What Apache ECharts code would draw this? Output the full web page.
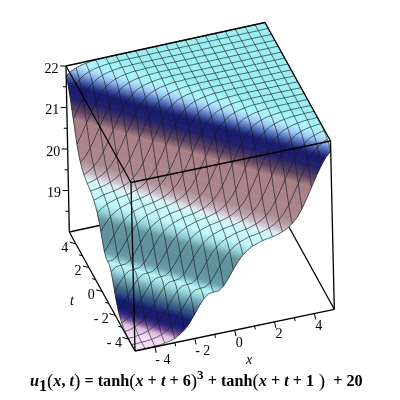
<!DOCTYPE html>
<html><head><meta charset="utf-8">
<style>html,body{margin:0;padding:0;background:#fff}#c{width:400px;height:400px}</style>
<script src="https://cdn.jsdelivr.net/npm/echarts@6/dist/echarts.min.js"></script>
</head><body><div id="c"></div>
<script>
// Surface height read per x+t, from -10 to 10 in steps of 0.25
var heightBySum = [
18.00,18.00,18.01,18.01,18.02,18.02,18.04,18.06,
18.10,18.17,18.26,18.39,18.56,18.74,18.90,18.99,
19.00,19.01,19.10,19.26,19.44,19.61,19.74,19.83,
19.90,19.94,19.98,20.00,20.02,20.05,20.09,20.15,
20.24,20.36,20.54,20.76,21.00,21.24,21.46,21.64,
21.76,21.85,21.90,21.94,21.96,21.98,21.99,21.99,
22.00,22.00,22.00,22.00,22.00,22.00,22.00,22.00,
22.00,22.00,22.00,22.00,22.00,22.00,22.00,22.00,
22.00,22.00,22.00,22.00,22.00,22.00,22.00,22.00,
22.00,22.00,22.00,22.00,22.00,22.00,22.00,22.00,
22.00];
var xTicks = [-4,-2,0,2,4];
var tTicks = [-4,-2,0,2,4];
var zTicks = [19,20,21,22];
var xMinor = [-3,-1,1,3];
var tMinor = [-3,-1,1,3];
var zMinor = [18.5,19.5,20.5,21.5];
var titleParts = ['{vb|u}','{sub|1}','{pl|(}','{vi|x}','{pb|, }','{vi|t}','{pl|)}','{pb| = tanh}','{pl|(}','{vi|x}','{pb| + }','{vi|t}','{pb| + 6}','{pl|)}','{sup|3}','{pb| + tanh}','{pl|(}','{vi|x}','{pb| + }','{vi|t}','{pb| + 1}','{pl| )}','{pb|  + 20}'];
var shadeAt = [-10,-8.4,-8.0,-7.75,-7.5,-7.2,-7.0,-6.75,-6.45,-6.1,-5.75,-5.5,-5.2,-4.7,-4.4,-4.0,-3.2,-2.7,-2.3,-1.9,-1.0,-0.8,-0.55,-0.25,0,0.3,0.7,1.2,2,10];
var shadeColor = ['#f8e4f8','#f5daf5','#d8b8dc','#6a4a90','#1e1e72','#17186e','#2a4a80','#5b8a9a','#9cd8e0','#c0fafc','#9cdce2','#6a9ca8','#5f8f9c','#64959f','#98d6de','#c2f7fb','#c8fafd','#dff0f5','#c8b4bf','#ab8a90','#a88086','#5a4060','#1e1e6c','#1a1c70','#4a66b0','#98bff0','#b0ecff','#a8f6fa','#9beef2','#9beef2'];

var FONT = '"Liberation Serif","Times New Roman",serif';
var LOW=-5, HIGH=5, ZLOW=18, ZHIGH=22, STEP=0.25, MESH=0.5;
// Screen position of the eight box corners: [x index][t index][z index]
var corner = {
  a:[[[135,351],[131,182.5]],[[69.3,232],[66,66]]],
  b:[[[334.3,309.3],[330.5,141]],[[268,189],[265,22.5]]]
};
function project(x,t,z){
  var p=(x-LOW)/(HIGH-LOW), q=(t-LOW)/(HIGH-LOW), r=(z-ZLOW)/(ZHIGH-ZLOW), out=[0,0];
  for(var k=0;k<2;k++){
    var a=corner.a, b=corner.b;
    var v0=(1-q)*((1-r)*a[0][0][k]+r*a[0][1][k])+q*((1-r)*a[1][0][k]+r*a[1][1][k]);
    var v1=(1-q)*((1-r)*b[0][0][k]+r*b[0][1][k])+q*((1-r)*b[1][0][k]+r*b[1][1][k]);
    out[k]=(1-p)*v0+p*v1;
  }
  return out;
}
function heightOf(s){ return heightBySum[Math.round((s+10)/STEP)]; }
function colorAt(s){
  for(var i=1;i<shadeAt.length;i++){
    if(s<=shadeAt[i]){
      return echarts.color.lerp((s-shadeAt[i-1])/(shadeAt[i]-shadeAt[i-1]),[shadeColor[i-1],shadeColor[i]]);
    }
  }
  return shadeColor[shadeColor.length-1];
}
function isoEnds(s){
  return s<=0 ? [[LOW,s-LOW],[s-LOW,LOW]] : [[s-HIGH,HIGH],[HIGH,s-HIGH]];
}
var stripData = heightBySum.slice(0,-1).map(function(u,i){
  return [-10+i*STEP,u,-10+(i+1)*STEP,heightBySum[i+1]];
});
function renderStrip(params,api){
  var s0=api.value(0),u0=api.value(1),s1=api.value(2),u1=api.value(3);
  var e0=isoEnds(s0),e1=isoEnds(s1);
  var A=api.coord(project(e0[0][0],e0[0][1],u0)),B=api.coord(project(e0[1][0],e0[1][1],u0));
  var C=api.coord(project(e1[1][0],e1[1][1],u1)),D=api.coord(project(e1[0][0],e1[0][1],u1));
  var dx=C[0]-D[0],dy=C[1]-D[1],len2=dx*dx+dy*dy||1;
  var k=((A[0]-D[0])*dx+(A[1]-D[1])*dy)/len2;
  var fx=D[0]+k*dx,fy=D[1]+k*dy;
  var stops=[];
  for(var n=0;n<=4;n++){ stops.push({offset:n/4,color:colorAt(s0+(s1-s0)*n/4)}); }
  var grad=new echarts.graphic.LinearGradient(A[0],A[1],fx,fy,stops,true);
  return {type:'polygon',shape:{points:[A,B,C,D]},style:{fill:grad,stroke:grad,lineWidth:0.7},silent:true};
}
var meshData=[];
for(var m=0;m<=20;m++){ meshData.push([0,LOW+m*MESH]); meshData.push([1,LOW+m*MESH]); }
function renderMesh(params,api){
  var dir=api.value(0),fixed=api.value(1),pts=[];
  for(var j=0;j<=40;j++){
    var v=LOW+j*STEP, x=dir?v:fixed, t=dir?fixed:v;
    pts.push(api.coord(project(x,t,heightOf(x+t))));
  }
  return {type:'polyline',shape:{points:pts},style:{fill:null,stroke:'rgba(20,25,30,0.62)',lineWidth:1},silent:true};
}
function seg(api,p,q,w,c){
  var a=api.coord(p),b=api.coord(q);
  return {type:'line',shape:{x1:a[0],y1:a[1],x2:b[0],y2:b[1]},style:{stroke:c||'#000',lineWidth:w||1.3},silent:true};
}
function boxBack(params,api){
  var E=project(LOW,HIGH,ZLOW),H=project(HIGH,HIGH,ZLOW),G=project(HIGH,LOW,ZLOW);
  return {type:'group',children:[seg(api,E,H),seg(api,H,G)]};
}
function label(api,pos,dx,dy,text,italic){
  var c=api.coord(pos);
  return {type:'text',style:{x:c[0]+dx,y:c[1]+dy,text:text,fill:'#000',font:(italic?'italic ':'')+'14px '+FONT,textAlign:'center',textVerticalAlign:'middle'},silent:true};
}
function txt(v){ return v<0 ? '- '+(-v) : String(v); }
function boxFront(params,api){
  var A=project(LOW,HIGH,ZHIGH),B=project(HIGH,HIGH,ZHIGH),C=project(HIGH,LOW,ZHIGH),D=project(LOW,LOW,ZHIGH);
  var E=project(LOW,HIGH,ZLOW),F=project(LOW,LOW,ZLOW),G=project(HIGH,LOW,ZLOW);
  var kids=[seg(api,A,B),seg(api,B,C),seg(api,C,D),seg(api,D,A),seg(api,D,F),seg(api,F,G),seg(api,E,F),seg(api,A,E),seg(api,C,G)];
  function tickX(v,l){var p=project(v,LOW,ZLOW);kids.push(seg(api,p,[p[0]+l*0.22,p[1]+l],1));}
  function tickT(v,l){var p=project(LOW,v,ZLOW);kids.push(seg(api,p,[p[0]-l,p[1]-l*0.28],1));}
  function tickZ(v,l){var p=project(LOW,HIGH,v);kids.push(seg(api,p,[p[0]-l,p[1]],1));}
  xTicks.forEach(function(v){tickX(v,6);kids.push(label(api,project(v,LOW,ZLOW),v<0?8:4.5,13,txt(v)));});
  xMinor.forEach(function(v){tickX(v,3.5);});
  tTicks.forEach(function(v){tickT(v,6);kids.push(label(api,project(LOW,v,ZLOW),v<0?-14:-11,4,txt(v)));});
  tMinor.forEach(function(v){tickT(v,3.5);});
  zTicks.forEach(function(v){tickZ(v,6);kids.push(label(api,project(LOW,HIGH,v),-14.5,3,txt(v)));});
  zMinor.forEach(function(v){tickZ(v,3.5);});
  var xl=api.coord([249,360]),tl=api.coord([72,301]);
  kids.push({type:'text',style:{x:xl[0],y:xl[1],text:'x',fill:'#000',font:'italic 14px '+FONT,textAlign:'center',textVerticalAlign:'middle'},silent:true});
  kids.push({type:'text',style:{x:tl[0],y:tl[1],text:'t',fill:'#000',font:'italic 14px '+FONT,textAlign:'center',textVerticalAlign:'middle'},silent:true});
  return {type:'group',children:kids};
}
var chart=echarts.init(document.getElementById('c'),null,{renderer:'canvas'});
var base={fontFamily:FONT,color:'#000',fontSize:16.2,lineHeight:26,fontWeight:'bold'};
function style(o){return Object.assign({},base,o);}
chart.setOption({
  animation:false,
  backgroundColor:'#fff',
  title:{text:titleParts.join(''),left:30,top:369,padding:0,textStyle:{rich:{
    vb:style({fontStyle:'italic'}),
    vi:style({fontStyle:'italic',fontWeight:'bold'}),
    pb:style({}),
    pl:style({fontWeight:'normal',fontSize:19}),
    sub:style({fontSize:16,verticalAlign:'bottom',lineHeight:16,padding:[6,0,0,0]}),
    sup:style({fontSize:13,verticalAlign:'top',lineHeight:13,padding:[0,0,6,0]})
  }}},
  grid:{left:0,right:0,top:0,bottom:0},
  xAxis:{type:'value',min:0,max:400,show:false},
  yAxis:{type:'value',min:0,max:400,inverse:true,show:false},
  series:[
    {type:'custom',renderItem:boxBack,data:[[0]],clip:false,silent:true,z:1},
    {type:'custom',renderItem:renderStrip,data:stripData,clip:false,silent:true,z:2},
    {type:'custom',renderItem:renderMesh,data:meshData,clip:false,silent:true,z:3},
    {type:'custom',renderItem:boxFront,data:[[0]],clip:false,silent:true,z:4}
  ]
});
</script></body></html>
